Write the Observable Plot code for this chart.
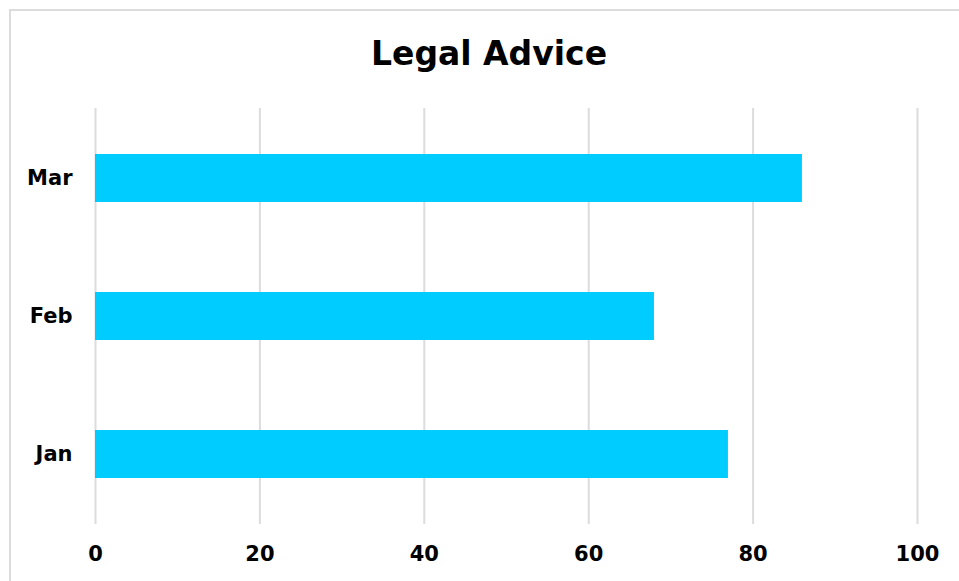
<!DOCTYPE html>
<html>
<head>
<meta charset="utf-8">
<script src="https://cdn.jsdelivr.net/npm/d3@7"></script>
<script src="https://cdn.jsdelivr.net/npm/@observablehq/plot@0.6"></script>
<style>
  html, body { margin: 0; padding: 0; background: #fff; overflow: hidden; }
  body { width: 959px; height: 581px; position: relative; font-family: "DejaVu Sans", sans-serif; }
  #frame { position: absolute; left: 9px; top: 9px; width: 1000px; height: 700px;
           border-top: 2px solid #dcdcdc; border-left: 2px solid #dcdcdc; }
  #title { position: absolute; left: 0; width: 978px; top: 34px; text-align: center;
           font-family: "DejaVu Sans", sans-serif; font-weight: 700; font-size: 33px; color: #000;
           line-height: 40px; }
  #chart { position: absolute; left: 0; top: 90px; }
  #chart text { font-family: "DejaVu Sans", sans-serif; font-weight: 700; fill: #000; }
</style>
</head>
<body>
<div id="frame"></div>
<div id="title">Legal Advice</div>
<div id="chart"></div>
<script>
const months = ["Jan", "Feb", "Mar"];
const values = [77, 68, 86];
const xTicks = [0, 20, 40, 60, 80, 100];
const barColor = "#00ccff";

const data = months.map((m, i) => ({month: m, value: values[i]}));

const plot = Plot.plot({
  width: 959,
  height: 491,
  marginLeft: 95,
  marginRight: 42,
  marginTop: 18,
  marginBottom: 57,
  x: {domain: [0, 100], ticks: xTicks, label: null},
  y: {domain: ["Mar", "Feb", "Jan"], paddingInner: 0.655, paddingOuter: 0.325, label: null},
  style: {fontSize: "21px", fontFamily: "DejaVu Sans, sans-serif"},
  marks: [
    Plot.ruleX(xTicks, {stroke: "#dcdcdc", strokeWidth: 2}),
    Plot.barX(data, {x: "value", y: "month", fill: barColor}),
    Plot.axisX(xTicks, {tickSize: 0, tickPadding: 22, fontSize: 21, fontWeight: 700}),
    Plot.axisY({tickSize: 0, tickPadding: 23, fontSize: 21, fontWeight: 700})
  ]
});
document.getElementById("chart").appendChild(plot);
</script>
</body>
</html>
